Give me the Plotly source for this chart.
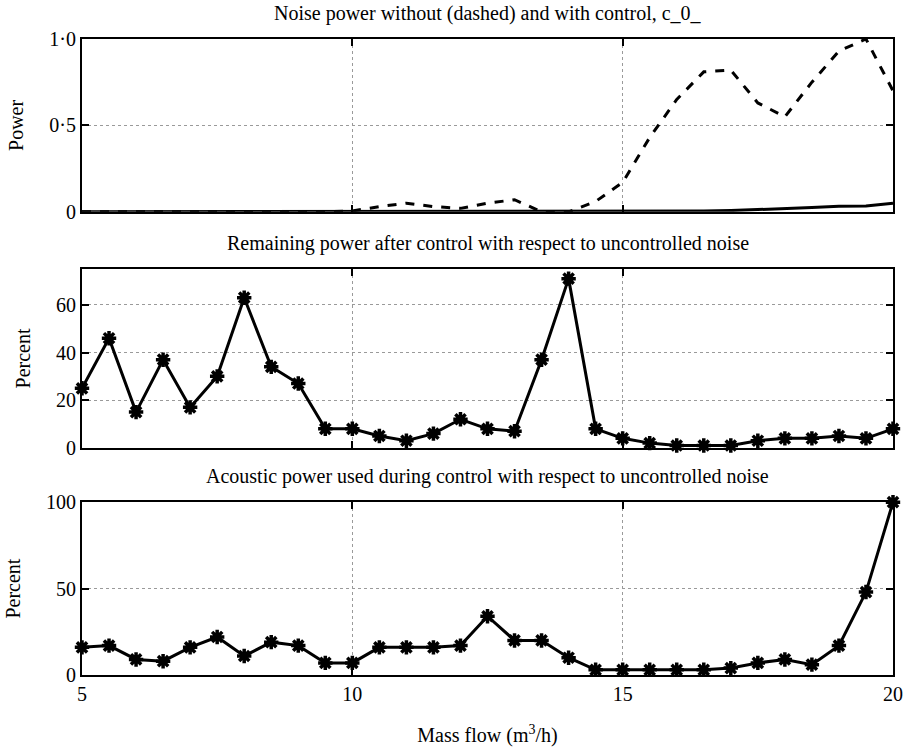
import plotly.graph_objects as go

# Mass flow grid (m^3/h)
mass_flow = [5 + 0.5 * i for i in range(31)]

# Normalised noise power without control (dashed) and with control (solid)
power_uncontrolled = [0, 0, 0, 0, 0, 0, 0, 0, 0, 0.0, 0.005, 0.03, 0.05, 0.03, 0.02, 0.05,
                      0.07, 0.0, 0.0, 0.06, 0.17, 0.43, 0.65, 0.81, 0.82, 0.63, 0.55,
                      0.75, 0.93, 1.0, 0.7]
power_controlled = [0, 0, 0, 0, 0, 0, 0, 0, 0, 0, 0, 0, 0, 0, 0, 0, 0, 0, 0, 0, 0, 0,
                    0, 0.004, 0.007, 0.012, 0.018, 0.025, 0.032, 0.033, 0.05]

# Remaining power after control (% of uncontrolled)
remaining_pct = [25, 46, 15, 37, 17, 30, 63, 34, 27, 8, 8, 5, 3, 6, 12, 8, 7, 37, 71,
                 8, 4, 2, 1, 1, 1, 3, 4, 4, 5, 4, 8]

# Acoustic power used during control (% of uncontrolled)
acoustic_pct = [16, 17, 9, 8, 16, 22, 11, 19, 17, 7, 7, 16, 16, 16, 17, 34, 20, 20, 10,
                3, 3, 3, 3, 3, 4, 7, 9, 6, 17, 48, 100]

titles = [
    "Noise power without (dashed) and with control, c_0_",
    "Remaining power after control with respect to uncontrolled noise",
    "Acoustic power used during control with respect to uncontrolled noise",
]

FONT = "Liberation Serif, Times New Roman, DejaVu Serif, serif"
GRID = "#9a9a9a"

fig = go.Figure()

line = dict(color="black", width=3)
marker = dict(symbol="asterisk-open", size=12, color="black",
              line=dict(color="black", width=3.5))

fig.add_trace(go.Scatter(x=mass_flow, y=power_uncontrolled, mode="lines",
                         line=dict(color="black", width=3, dash="dash"),
                         xaxis="x", yaxis="y"))
fig.add_trace(go.Scatter(x=mass_flow, y=power_controlled, mode="lines",
                         line=line, xaxis="x", yaxis="y"))
fig.add_trace(go.Scatter(x=mass_flow, y=remaining_pct, mode="lines+markers",
                         line=line, marker=marker, xaxis="x2", yaxis="y2",
                         cliponaxis=False))
fig.add_trace(go.Scatter(x=mass_flow, y=acoustic_pct, mode="lines+markers",
                         line=line, marker=marker, xaxis="x3", yaxis="y3",
                         cliponaxis=False))

domains = [[0.7283, 1.0], [0.3571, 0.6382], [0.0, 0.2717]]

common_x = dict(range=[5, 20], tickvals=[5, 10, 15, 20], showline=True, mirror="ticks",
                linecolor="black", linewidth=2, ticks="inside", ticklen=7,
                tickwidth=1.5, tickcolor="black", showgrid=True, gridcolor=GRID,
                griddash="dot", gridwidth=1, zeroline=False,
                tickfont=dict(family=FONT, size=20, color="black"))
common_y = dict(showline=True, mirror="ticks", linecolor="black", linewidth=2,
                ticks="inside", ticklen=7, tickwidth=1.5, tickcolor="black",
                showgrid=True, gridcolor=GRID, griddash="dot", gridwidth=1,
                zeroline=False, tickfont=dict(family=FONT, size=20, color="black"),
                title_font=dict(family=FONT, size=20, color="black"))

fig.update_layout(
    width=915, height=755,
    margin=dict(l=77, r=13, t=39, b=72),
    plot_bgcolor="white", paper_bgcolor="white",
    showlegend=False,
    xaxis=dict(common_x, anchor="y", showticklabels=False),
    xaxis2=dict(common_x, anchor="y2", showticklabels=False),
    xaxis3=dict(common_x, anchor="y3",
                title=dict(text="Mass flow (m<sup>3</sup>/h)", standoff=24,
                           font=dict(family=FONT, size=20, color="black"))),
    yaxis=dict(common_y, domain=domains[0], range=[0, 1], tickvals=[0, 0.5, 1],
               ticktext=["0", "0·5", "1·0"], title=dict(text="Power", standoff=20)),
    yaxis2=dict(common_y, domain=domains[1], range=[0, 75], tickvals=[0, 20, 40, 60],
                title=dict(text="Percent", standoff=20)),
    yaxis3=dict(common_y, domain=domains[2], range=[0, 100], tickvals=[0, 50, 100],
                title=dict(text="Percent", standoff=20)),
)

for dom, txt in zip(domains, titles):
    fig.add_annotation(text=txt, xref="paper", yref="paper", x=0.5, y=dom[1],
                       yshift=12, yanchor="bottom", showarrow=False,
                       font=dict(family=FONT, size=20, color="black"))

fig.write_html("out.html")
